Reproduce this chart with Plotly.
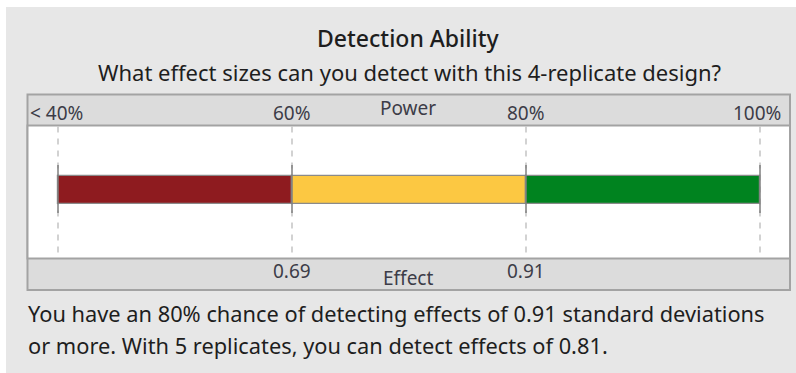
import plotly.graph_objects as go

# Power scale and the effect sizes detectable at each boundary
power_ticks = [40, 60, 80, 100]
power_labels = ["< 40%", "60%", "80%", "100%"]
effect_at_power = {60: "0.69", 80: "0.91"}

# Power bands (start, end) and colours
band_starts = [40, 60, 80]
band_ends = [60, 80, 100]
band_colors = ["#8e1b1f", "#fcc842", "#00831f"]

title = "Detection Ability"
subtitle = "What effect sizes can you detect with this 4-replicate design?"
summary_lines = [
    "You have an 80% chance of detecting effects of 0.91 standard deviations",
    "or more. With 5 replicates, you can detect effects of 0.81.",
]

W, H = 796, 373
# pixel mapping for the power axis: 40% -> x=58, 100% -> x=760
px_per_unit = (760 - 58) / (100 - 40)
x_lo = 40 - 58 / px_per_unit
x_hi = 100 + (W - 760) / px_per_unit


def px(x):
    return x_lo + x / px_per_unit


FONT = "Noto Sans"
TXT = "#1e1e1e"
LBL = "#3c3c48"

fig = go.Figure()

bar_y = 190
fig.add_trace(go.Bar(
    y=[bar_y] * len(band_starts),
    x=[e - s for s, e in zip(band_starts, band_ends)],
    base=band_starts,
    orientation="h",
    width=28,
    marker=dict(color=band_colors, line=dict(color="#8a8a8a", width=1.2)),
    hoverinfo="skip",
    showlegend=False,
))

shapes = []
panel_l = px(27.5)
panel_r = px(790)
top, head_b, foot_t, bot = 94.5, 125.5, 258.5, 290

# white margin strips along top and left edge
shapes.append(dict(type="rect", x0=px(0), x1=px(W), y0=0, y1=7,
                   fillcolor="#ffffff", line=dict(width=0), layer="below"))
shapes.append(dict(type="rect", x0=px(0), x1=px(6), y0=0, y1=H,
                   fillcolor="#ffffff", line=dict(width=0), layer="below"))

# panel: header band, white plot area, footer band
shapes.append(dict(type="rect", x0=panel_l, x1=panel_r, y0=top, y1=bot,
                   fillcolor="#dcdcdc", line=dict(color="#a3a3a3", width=2), layer="below"))
shapes.append(dict(type="rect", x0=panel_l, x1=panel_r, y0=head_b, y1=foot_t,
                   fillcolor="#ffffff", line=dict(color="#a3a3a3", width=2), layer="below"))

# dashed reference lines at each power tick
for p in power_ticks:
    shapes.append(dict(type="line", x0=p, x1=p, y0=head_b + 1, y1=foot_t - 1,
                       line=dict(color="#c4c4c4", width=1.5, dash="6px,6px"), layer="below"))
# caps at the band boundaries
for p in power_ticks:
    shapes.append(dict(type="line", x0=p, x1=p, y0=bar_y - 25, y1=bar_y + 23,
                       line=dict(color="#7f7f7f", width=1.5), layer="above"))

annotations = []
anchors = ["left", "center", "center", "right"]
for p, lab, anc in zip(power_ticks, power_labels, anchors):
    if anc == "left":
        xa = panel_l
    elif anc == "right":
        xa = px(783)
    else:
        xa = p
    annotations.append(dict(x=xa, y=113, text=lab, xanchor=anc, yanchor="middle",
                            showarrow=False, font=dict(family=FONT, size=19, color=LBL)))
annotations.append(dict(x=px(408), y=108, text="Power", showarrow=False,
                        xanchor="center", yanchor="middle",
                        font=dict(family=FONT, size=19, color=LBL)))
for p, lab in effect_at_power.items():
    annotations.append(dict(x=p, y=271, text=lab, showarrow=False, xanchor="center",
                            yanchor="middle", font=dict(family=FONT, size=19, color=LBL)))
annotations.append(dict(x=px(408), y=278, text="Effect", showarrow=False,
                        xanchor="center", yanchor="middle",
                        font=dict(family=FONT, size=19, color=LBL)))

annotations.append(dict(x=px(408), y=38, text=title, showarrow=False,
                        xanchor="center", yanchor="middle",
                        font=dict(family=FONT, size=23, color=TXT, weight=500)))
annotations.append(dict(x=px(409), y=72, text=subtitle, showarrow=False,
                        xanchor="center", yanchor="middle",
                        font=dict(family=FONT, size=22, color=TXT)))
for i, line in enumerate(summary_lines):
    annotations.append(dict(x=px(26), y=313 + 32 * i, text=line, showarrow=False,
                            xanchor="left", yanchor="middle", align="left",
                            font=dict(family=FONT, size=21.8, color=TXT)))

fig.update_layout(
    width=W, height=H,
    margin=dict(l=0, r=0, t=0, b=0),
    paper_bgcolor="#e7e7e7",
    plot_bgcolor="rgba(0,0,0,0)",
    xaxis=dict(range=[x_lo, x_hi], visible=False, fixedrange=True),
    yaxis=dict(range=[H, 0], visible=False, fixedrange=True),
    shapes=shapes,
    annotations=annotations,
    bargap=0,
)

fig.write_html("out.html")
